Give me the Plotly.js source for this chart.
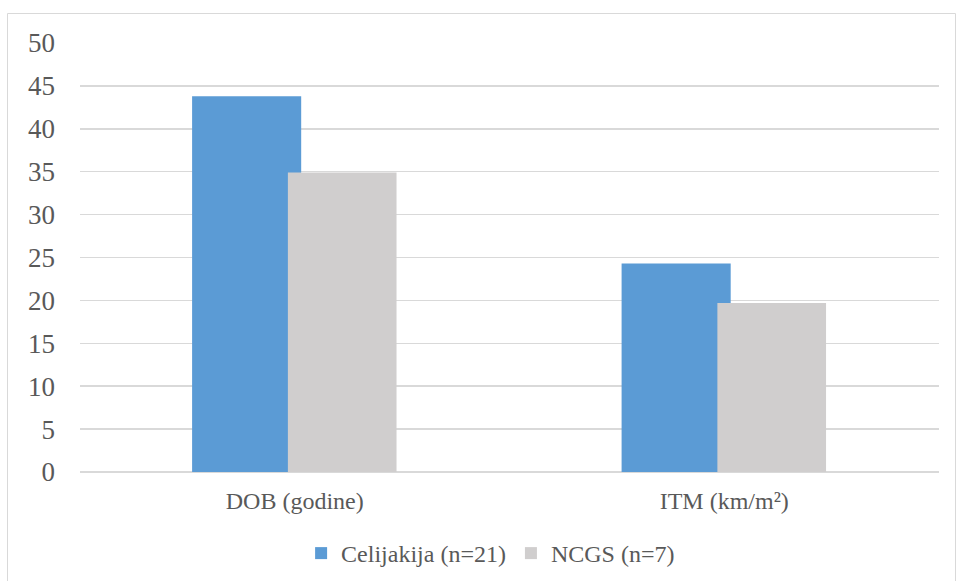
<!DOCTYPE html>
<html>
<head>
<meta charset="utf-8">
<script src="https://cdn.plot.ly/plotly-3.0.1.min.js"></script>
<style>html,body{margin:0;padding:0;background:#fff;}#chart{width:956px;height:581px;}</style>
</head>
<body>
<div id="chart"></div>
<script>
const categories = ['DOB (godine)', 'ITM (km/m²)'];
const seriesNames = ['Celijakija (n=21)', 'NCGS (n=7)'];
const celijakija = [43.8, 24.3];
const ncgs = [34.9, 19.7];
const yTicks = [0, 5, 10, 15, 20, 25, 30, 35, 40, 45, 50];

const textColor = '#595959';
const fontFam = "'Liberation Serif', 'Times New Roman', Times, serif";

const traces = [
  {
    type: 'bar', name: seriesNames[0], x: categories, y: celijakija,
    marker: {color: '#5B9BD5', line: {width: 0}},
    width: 0.254, offset: -0.239, hoverinfo: 'x+y+name'
  },
  {
    type: 'bar', name: seriesNames[1], x: categories, y: ncgs,
    marker: {color: '#D0CECE', line: {width: 0}},
    width: 0.253, offset: -0.016, hoverinfo: 'x+y+name'
  }
];

const layout = {
  width: 956, height: 581,
  margin: {l: 80, r: 17, t: 43, b: 109, autoexpand: false},
  paper_bgcolor: '#ffffff', plot_bgcolor: '#ffffff',
  barmode: 'overlay',
  font: {family: fontFam, color: textColor},
  xaxis: {
    type: 'category',
    tickfont: {size: 24, color: textColor, family: fontFam},
    showgrid: false, zeroline: false, showline: false,
    ticks: '', ticklen: 0, ticklabelstandoff: 12,
    fixedrange: true, automargin: false
  },
  yaxis: {
    range: [0, 50], tickvals: yTicks, ticktext: yTicks.map(String),
    tickfont: {size: 27, color: textColor, family: fontFam},
    showgrid: true, gridcolor: '#d9d9d9', gridwidth: 1.5,
    zeroline: true, zerolinecolor: '#d9d9d9', zerolinewidth: 1.5,
    showline: false, ticks: '', ticklabelstandoff: 24,
    fixedrange: true, automargin: false
  },
  showlegend: true,
  legend: {
    orientation: 'h', xanchor: 'center', yanchor: 'middle',
    x: 0.478, y: -0.19,
    font: {size: 24, color: textColor, family: fontFam},
    bgcolor: 'rgba(0,0,0,0)', traceorder: 'normal'
  },
  shapes: [
    {type: 'rect', xref: 'paper', yref: 'paper',
     x0: -0.0844, x1: 1.0192, y0: -0.30, y1: 1.0688,
     line: {color: '#d9d9d9', width: 1}, fillcolor: 'rgba(0,0,0,0)', layer: 'below'}
  ]
};

Plotly.newPlot('chart', traces, layout, {displayModeBar: false, staticPlot: true});
</script>
</body>
</html>
